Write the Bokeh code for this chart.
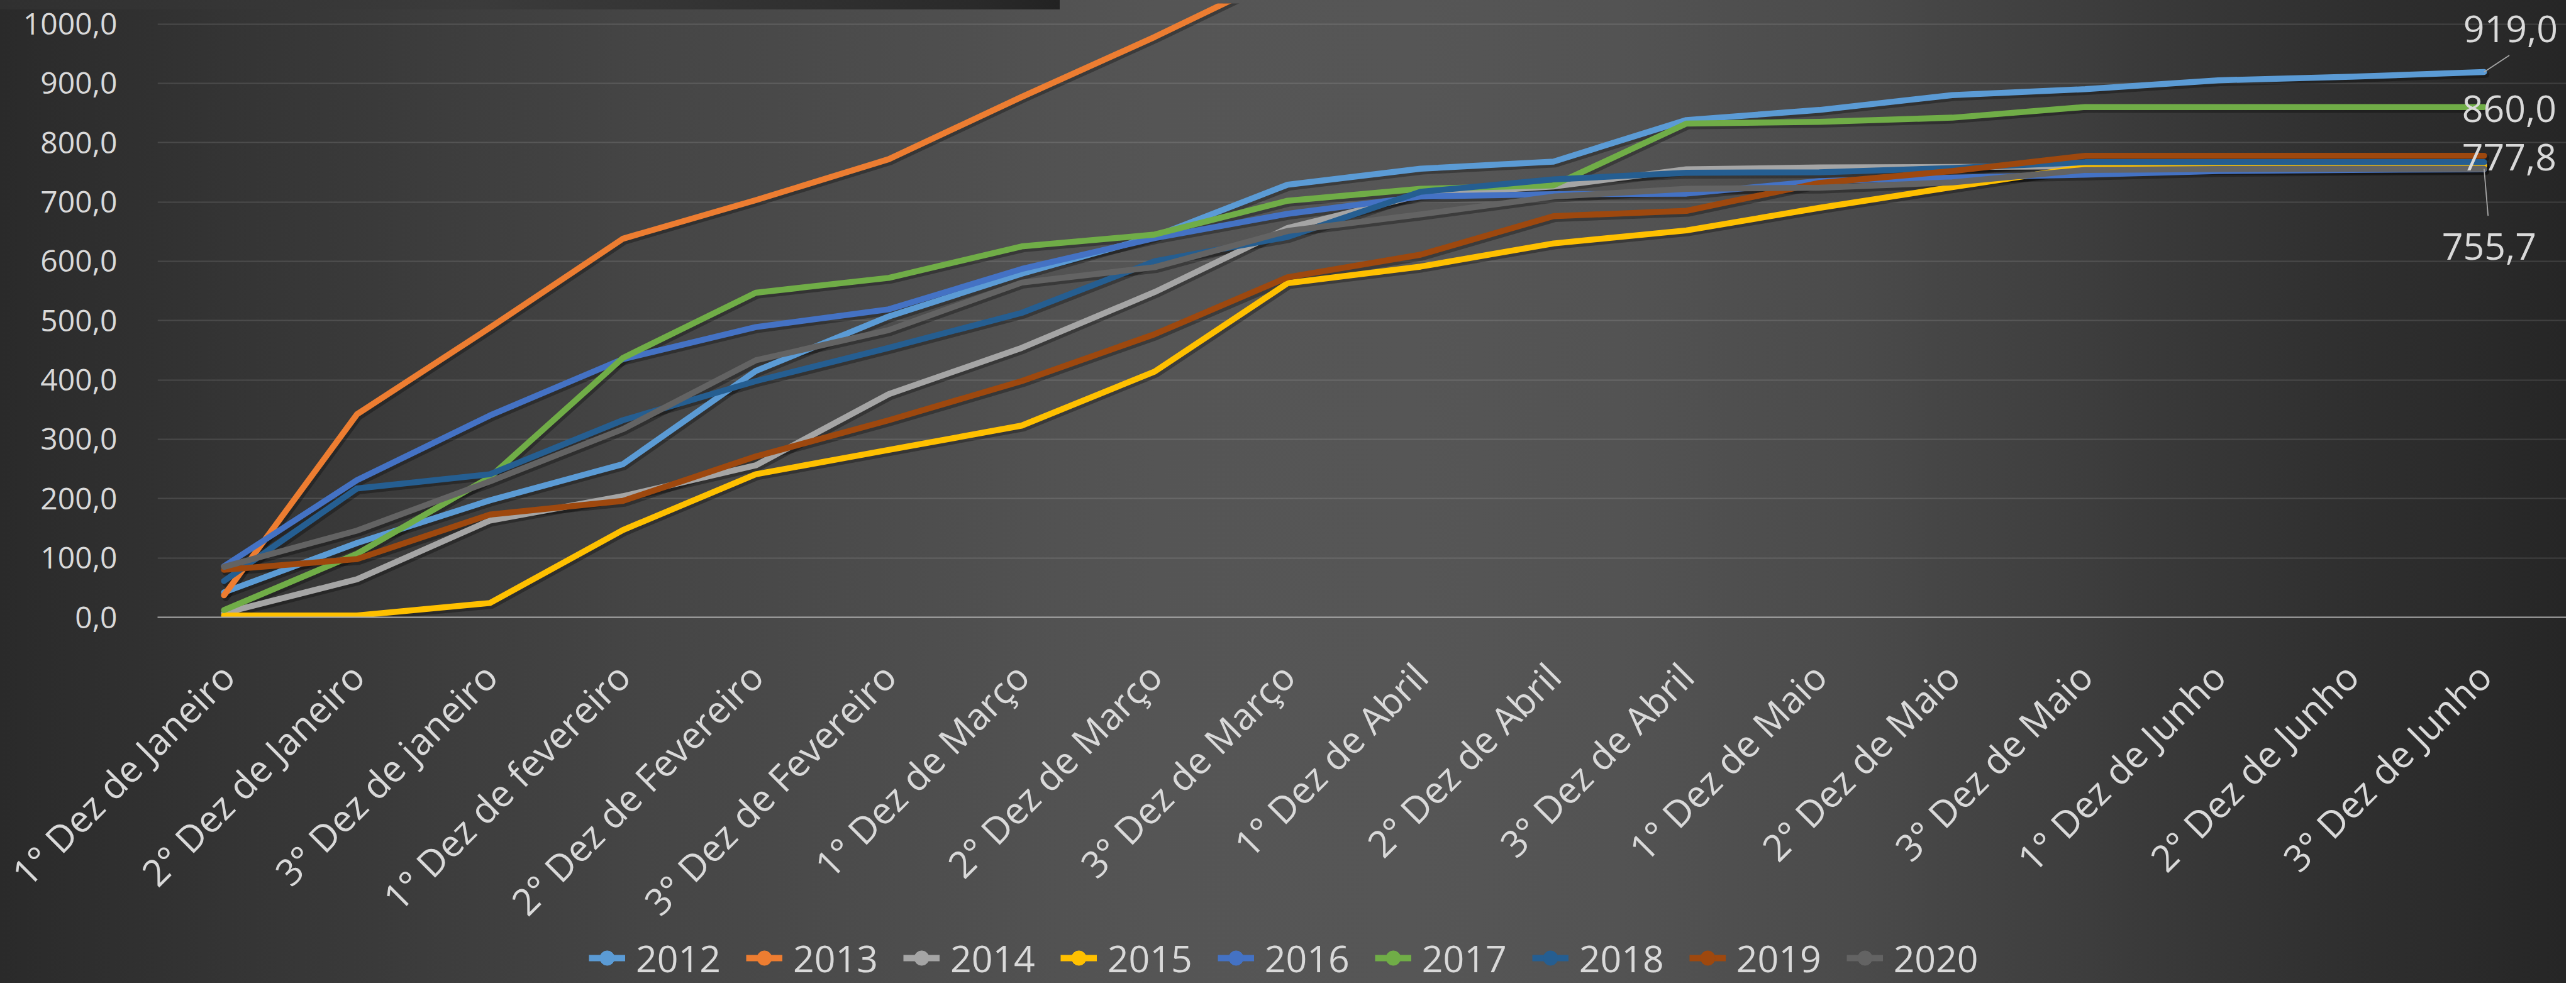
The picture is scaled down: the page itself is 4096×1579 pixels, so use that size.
import math
from bokeh.plotting import figure
from bokeh.layouts import column
from bokeh.models import (ColumnDataSource, FixedTicker, Legend, LegendItem,
                          LabelSet, Range1d)
from bokeh.core.properties import value
from bokeh.embed import file_html
from bokeh.resources import INLINE

# ---------------- data ----------------
categories = [
    "1° Dez de Janeiro", "2° Dez de Janeiro", "3° Dez de janeiro",
    "1° Dez de fevereiro", "2° Dez de Fevereiro", "3° Dez de Fevereiro",
    "1° Dez de Março", "2° Dez de Março", "3° Dez de Março",
    "1° Dez de Abril", "2° Dez de Abril", "3° Dez de Abril",
    "1° Dez de Maio", "2° Dez de Maio", "3° Dez de Maio",
    "1° Dez de Junho", "2° Dez de Junho", "3° Dez de Junho",
]

years = ["2012", "2013", "2014", "2015", "2016", "2017", "2018", "2019", "2020"]
colors = ["#5B9BD5", "#ED7D31", "#A5A5A5", "#FFC000", "#4472C4",
          "#70AD47", "#255E91", "#9E480E", "#636363"]

v2012 = [42, 125, 197, 258, 415, 507, 579, 642, 729, 756, 768, 838, 855, 880, 890, 905, 911, 919.0]
v2013 = [37, 342, 488, 638, 703, 772, 877, 978, 1086, 1150, 1190, 1240, 1290, 1310, 1330, 1340, 1345, 1350]
v2014 = [7, 64, 163, 204, 256, 376, 454, 548, 656, 712, 726, 755, 758, 759, 760, 761, 762, 762]
v2015 = [3, 3, 24, 147, 241, 282, 323, 414, 563, 591, 630, 652, 690, 725, 759, 760, 760, 760]
v2016 = [86, 231, 340, 435, 489, 519, 587, 639, 680, 709, 713, 714, 735, 741, 746, 752, 754, 755]
v2017 = [12, 107, 236, 437, 547, 572, 625, 645, 702, 722, 728, 832, 835, 842, 860, 860, 860, 860.0]
v2018 = [61, 217, 241, 332, 398, 454, 513, 600, 641, 717, 738, 749, 750, 757, 767, 767, 767, 767]
v2019 = [80, 98, 173, 196, 271, 332, 398, 477, 573, 611, 676, 685, 732, 752, 777.8, 777.8, 777.8, 777.8]
v2020 = [85, 146, 229, 317, 433, 484, 564, 590, 651, 679, 709, 722, 724, 733, 754, 755.5, 755.7, 755.7]

series = [v2012, v2013, v2014, v2015, v2016, v2017, v2018, v2019, v2020]

y_ticks = [0, 100, 200, 300, 400, 500, 600, 700, 800, 900, 1000]
labelled_years = ["2012", "2017", "2019", "2020"]

# ---------------- layout constants ----------------
W, H = 4080, 1563
H_LEG = 113          # legend strip, laid over the bottom of the chart
TOP = 5
FRAME_H = 976
FONT = "Open Sans"
TXT = "#d9d9d9"
BG = ("linear-gradient(to right, #2a2a2a 0%, #323232 7%, #454545 25%, #4c4c4c 34%, "
      "#555555 45%, #565656 55%, #535353 63%, #4b4b4b 72%, #3f3f3f 80%, "
      "#313131 90%, #262626 100%)")
TOPBAR = ("linear-gradient(to right, #303030 0%, #3b3b3b 45%, #2a2a2a 92%, #222222 100%) "
          "0 0 / 1685px 15px no-repeat")

xpos = list(range(len(categories)))

# ---------------- main chart ----------------
p = figure(
    x_range=Range1d(-0.5, len(categories) - 0.5 + 0.118),
    y_range=Range1d(0, 1034.5),
    width=W, height=H,
    output_backend="svg", toolbar_location=None,
    min_border_left=250, min_border_right=0,
    min_border_top=TOP, min_border_bottom=H - TOP - FRAME_H,
)
p.background_fill_color = None
p.border_fill_color = None
p.outline_line_color = None
p.styles = {"background": TOPBAR + ", " + BG}

p.xgrid.grid_line_color = None
p.ygrid.ticker = FixedTicker(ticks=y_ticks)
p.ygrid.grid_line_color = "white"
p.ygrid.grid_line_alpha = 0.12
p.ygrid.grid_line_width = 2

p.yaxis.ticker = FixedTicker(ticks=y_ticks)
p.yaxis.major_label_overrides = {t: f"{t:.1f}".replace(".", ",") for t in y_ticks}
p.yaxis.axis_line_color = None
p.yaxis.major_tick_line_color = None
p.yaxis.minor_tick_line_color = None
p.yaxis.major_label_standoff = 58
p.yaxis.major_label_text_font = FONT
p.yaxis.major_label_text_font_size = "48px"
p.yaxis.major_label_text_color = TXT

p.xaxis.ticker = FixedTicker(ticks=xpos)
p.xaxis.major_label_overrides = {i: c for i, c in zip(xpos, categories)}
p.xaxis.axis_line_color = "#ababab"
p.xaxis.axis_line_width = 2
p.xaxis.major_tick_line_color = None
p.xaxis.minor_tick_line_color = None
p.xaxis.major_label_orientation = math.pi / 4
p.xaxis.major_label_standoff = 77
p.xaxis.major_label_text_font = FONT
p.xaxis.major_label_text_font_size = "59px"
p.xaxis.major_label_text_color = TXT

# soft shadows under the lines
for vals in series:
    p.line([x + 0.014 for x in xpos], [v - 4 for v in vals], line_color="black",
           line_alpha=0.3, line_width=11, line_join="round", line_cap="round")

last_vals = {}
for yr, col, vals in zip(years, colors, series):
    src = ColumnDataSource(dict(x=xpos, y=vals))
    p.line("x", "y", source=src, line_color=col, line_width=9.5,
           line_join="round", line_cap="round")
    last_vals[yr] = vals[-1]

# data labels at the last point
label_offsets = {  # (x_offset, y_offset) in screen px, y up
    "2012": (-33, 68),
    "2017": (-35, -3),
    "2019": (-35, -2),
    "2020": (-67, -123),
}
last_x = xpos[-1]
lab_src = ColumnDataSource(dict(
    x=[last_x] * len(labelled_years),
    y=[last_vals[y] for y in labelled_years],
    text=[f"{last_vals[y]:.1f}".replace(".", ",") for y in labelled_years],
    xo=[label_offsets[y][0] for y in labelled_years],
    yo=[label_offsets[y][1] for y in labelled_years],
))
p.add_layout(LabelSet(x="x", y="y", text="text", x_offset="xo", y_offset="yo",
                      source=lab_src, text_align="left", text_baseline="middle",
                      text_font=value(FONT), text_font_size="59px",
                      text_color=TXT))

lead_src = ColumnDataSource(dict(
    x0=[last_x, last_x],
    y0=[last_vals["2012"], last_vals["2020"]],
    x1=[last_x + 0.19, last_x + 0.03],
    y1=[last_vals["2012"] + 28, last_vals["2020"] - 79],
))
p.segment(x0="x0", y0="y0", x1="x1", y1="y1", source=lead_src,
          line_color="#a6a6a6", line_width=1.8)

# ---------------- legend strip (overlaid on the chart's bottom edge) ----------------
pl = figure(width=W, height=H_LEG, x_range=Range1d(0, 1), y_range=Range1d(0, 1),
            output_backend="svg", toolbar_location=None,
            x_axis_location=None, y_axis_location=None, min_border=0)
pl.background_fill_color = None
pl.border_fill_color = None
pl.outline_line_color = None
pl.grid.grid_line_color = None
pl.styles = {"margin-top": f"-{H_LEG}px"}

items = []
for yr, col in zip(years, colors):
    # legend-only renderers: their point lies outside the visible range
    lr = pl.line(x=[-5, -4], y=[-5, -5], line_color=col, line_width=10)
    dr = pl.scatter(x=[-5], y=[-5], marker="circle", size=25,
                    fill_color=col, line_color=col)
    items.append(LegendItem(label=yr, renderers=[lr, dr]))

legend = Legend(items=items, orientation="horizontal", location=(686, 0),
                padding=0, margin=0, spacing=40, label_standoff=17,
                glyph_width=58, glyph_height=64, label_height=64,
                border_line_color=None, background_fill_alpha=0,
                label_text_font=FONT, label_text_font_size="59px",
                label_text_color=TXT)
pl.add_layout(legend)

layout = column(p, pl, spacing=0, styles={"overflow": "hidden"})
open("out.html", "w").write(file_html(layout, INLINE))
